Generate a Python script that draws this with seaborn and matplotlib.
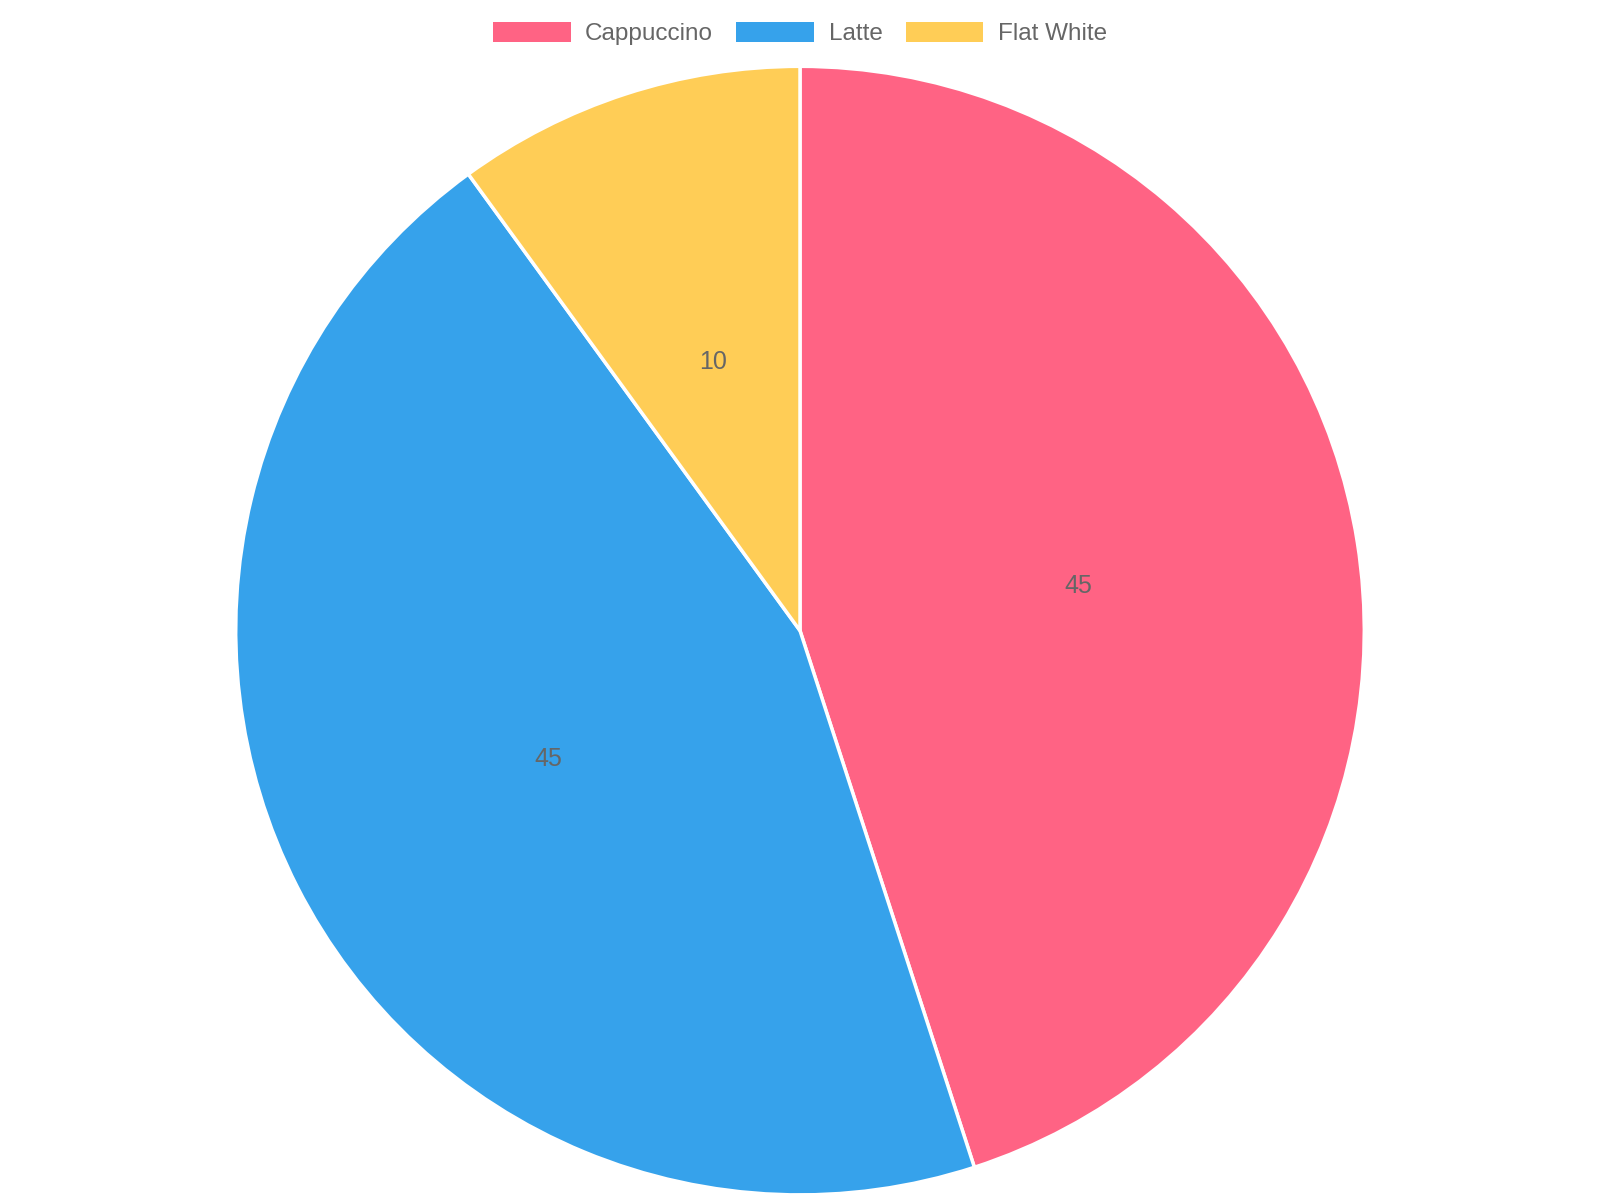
import matplotlib
matplotlib.use("Agg")
import matplotlib.pyplot as plt
import seaborn as sns
from matplotlib.patches import Patch

categories = ["Cappuccino", "Latte", "Flat White"]
values = [45, 45, 10]
colors = ["#FF6384", "#36A2EB", "#FFCD56"]

sns.set_style("white")
plt.rcParams['font.family'] = ['Liberation Sans', 'DejaVu Sans']
palette = sns.color_palette(colors)

fig = plt.figure(figsize=(16, 12), dpi=100)
cy = 1 - 618 / 1176
r = 553 / 1176
rw = r * 12 / 16
ax = fig.add_axes([0.5 - rw, cy - r, 2 * rw, 2 * r])

wedges, texts = ax.pie(values, colors=palette, startangle=90, counterclock=False,
                       radius=1, labels=[str(v) for v in values], labeldistance=0.5,
                       wedgeprops=dict(edgecolor="white", linewidth=2.5),
                       textprops=dict(color="#666666", fontsize=18, ha="center", va="center"))
ax.set_xlim(-1.0, 1.0)
ax.set_ylim(-1.0, 1.0)
ax.set_aspect("equal")
ax.axis("off")

handles = [Patch(facecolor=c, edgecolor="none", label=l) for c, l in zip(palette, categories)]
fig.legend(handles=handles, loc="center", bbox_to_anchor=(0.5, 1 - 33 / 1176), ncol=3,
           frameon=False, fontsize=17.5, handlelength=3.2, handleheight=0.85,
           handletextpad=0.6, columnspacing=0.95, labelcolor="#666666")

fig.savefig("out.png", dpi=100, facecolor="white")
